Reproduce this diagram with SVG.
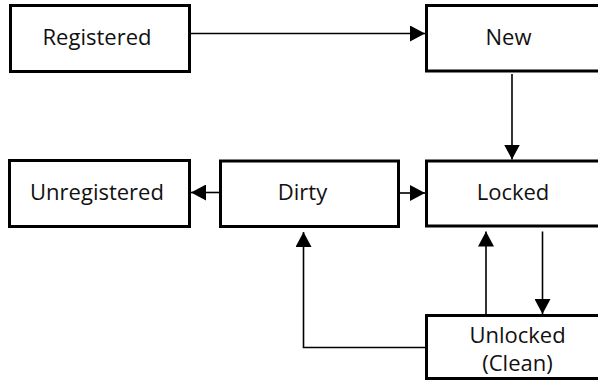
<svg xmlns="http://www.w3.org/2000/svg" width="598" height="381" viewBox="0 0 598 381">
<style>
.box{fill:#fff;stroke:#000;stroke-width:3}
.lbl{font-family:"Open Sans","Noto Sans",sans-serif;font-size:22px;fill:#111;text-anchor:middle}
.con{fill:none;stroke:#000;stroke-width:1.6}
</style>
<defs>
<marker id="ah" markerUnits="userSpaceOnUse" markerWidth="15" markerHeight="16" refX="15" refY="8" orient="auto">
<polygon points="0,0 15,8 0,16" fill="#000"/>
</marker>
</defs>
<rect width="598" height="381" fill="#fff"/>
<g id="connectors">
<path class="con" d="M191 33.5 H425" marker-end="url(#ah)"/>
<path class="con" d="M512 74 V159.5" marker-end="url(#ah)"/>
<path class="con" d="M219 192.5 H191" marker-end="url(#ah)"/>
<path class="con" d="M400 193 H425" marker-end="url(#ah)"/>
<path class="con" d="M542.5 231.5 V314" marker-end="url(#ah)"/>
<path class="con" d="M486 314 V231.5" marker-end="url(#ah)"/>
<path class="con" d="M425 347.5 H303.5 V232" marker-end="url(#ah)"/>
</g>
<g id="registered">
<rect class="box" x="10.5" y="5.5" width="179" height="66"/>
<text class="lbl" x="97" y="45">Registered</text>
</g>
<g id="new">
<rect class="box" x="426.5" y="5.5" width="180" height="65.5"/>
<text class="lbl" x="508.5" y="45">New</text>
</g>
<g id="unregistered">
<rect class="box" x="9.5" y="160.5" width="180" height="66"/>
<text class="lbl" x="97" y="200">Unregistered</text>
</g>
<g id="dirty">
<rect class="box" x="220.5" y="161" width="178" height="65.5"/>
<text class="lbl" x="302.5" y="200">Dirty</text>
</g>
<g id="locked">
<rect class="box" x="426.5" y="161" width="180" height="65"/>
<text class="lbl" x="513" y="200">Locked</text>
</g>
<g id="unlocked">
<rect class="box" x="426.5" y="315.5" width="180" height="63"/>
<text class="lbl" x="517.5" y="343">Unlocked</text>
<text class="lbl" x="517.5" y="371">(Clean)</text>
</g>
</svg>
